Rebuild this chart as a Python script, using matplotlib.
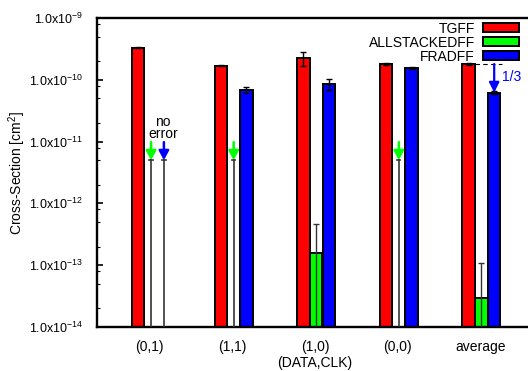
import numpy as np
import matplotlib
matplotlib.use("Agg")
import matplotlib.pyplot as plt
from matplotlib.patches import Rectangle
from matplotlib.ticker import LogLocator, NullFormatter

plt.rcParams["font.family"] = ["Liberation Sans", "DejaVu Sans"]
plt.rcParams["mathtext.fontset"] = "custom"
plt.rcParams["mathtext.rm"] = "Liberation Sans"
plt.rcParams["mathtext.it"] = "Liberation Sans"

groups = ["(0,1)", "(1,1)", "(1,0)", "(0,0)", "average"]
series = ["TGFF", "ALLSTACKEDFF", "FRADFF"]
colors = ["#ff0000", "#00ff00", "#0000ff"]

tgff = [3.3e-10, 1.7e-10, 2.25e-10, 1.8e-10, 1.8e-10]
tgff_err = [0.08e-10, 0.05e-10, 0.55e-10, 0.05e-10, 0.05e-10]
stacked = [0, 0, 1.58e-13, 0, 2.9e-14]
stacked_err = [0, 0, 3.0e-13, 0, 7.8e-14]
fradff = [0, 6.9e-11, 8.6e-11, 1.55e-10, 6.2e-11]
fradff_err = [0, 0.85e-11, 1.7e-11, 0.06e-10, 0.3e-11]
upper_limit = 5e-12

ymin, ymax = 1e-14, 1e-9
width = 0.15
offsets = [-0.14, 0.015, 0.17]

fig = plt.figure(figsize=(5.28, 3.71), dpi=100)
ax = fig.add_axes([97/528, 44/371, 436/528, 309/371])
ax.set_yscale("log")
ax.set_ylim(ymin, ymax)
ax.set_xlim(-0.64, 4.64)

x = np.arange(len(groups))
data = [tgff, stacked, fradff]
errs = [tgff_err, stacked_err, fradff_err]
for k in range(3):
    xs = x + offsets[k]
    for i in range(len(groups)):
        v = data[k][i]
        e = errs[k][i]
        if v > 0:
            ax.bar(xs[i], v - ymin, bottom=ymin, width=width, color=colors[k],
                   edgecolor="black", linewidth=1.4, zorder=2)
            lo = min(e, v * 0.99)
            ecol = "black" if k != 1 else "#333333"
            ax.errorbar(xs[i], v, yerr=[[lo], [e]], fmt="none", ecolor=ecol,
                        elinewidth=1.0, capsize=2.5, capthick=1.0, zorder=3)
        else:
            # upper limit: no error observed
            ax.plot([xs[i], xs[i]], [ymin, upper_limit], color="#333333",
                    lw=1.2, zorder=3)
            ax.plot([xs[i] - 0.02, xs[i] + 0.02], [upper_limit, upper_limit],
                    color="#333333", lw=1.2, zorder=3)
            ax.annotate("", xy=(xs[i], upper_limit), xytext=(xs[i], 9.8e-12),
                        arrowprops=dict(arrowstyle="-|>,head_width=0.3,head_length=0.55",
                                        color=colors[k], lw=1.8,
                                        shrinkA=0, shrinkB=0), zorder=4)

ax.text(0.16, 1.68e-11, "no\nerror", ha="center", va="center", fontsize=10,
        linespacing=0.85)

# factor 1/3 annotation on average
xa = x[4] + offsets[2]
ax.plot([x[4] + offsets[0] + width/2, xa + 0.09], [tgff[4], tgff[4]],
        color="black", lw=0.8, ls=(0, (4, 3)), zorder=3)
ax.annotate("", xy=(xa, fradff[4]), xytext=(xa, tgff[4]),
            arrowprops=dict(arrowstyle="-|>,head_width=0.3,head_length=0.6",
                            color="#0000ff", lw=1.6, shrinkA=0, shrinkB=0), zorder=4)
ax.text(4.27, 1.12e-10, "1/3", color="#0000ff", fontsize=10, ha="left", va="center")

# axes styling
ax.set_xticks(x)
ax.set_xticklabels(groups, fontsize=10)
ax.tick_params(axis="x", length=0, pad=9)
yt = [1e-14, 1e-13, 1e-12, 1e-11, 1e-10, 1e-9]
ax.set_yticks(yt)
ax.set_yticklabels([r"1.0x10$^{%d}$" % int(np.log10(t)) for t in yt], fontsize=9)
ax.yaxis.set_minor_locator(LogLocator(base=10, subs=[2, 5, 8]))
ax.yaxis.set_minor_formatter(NullFormatter())
ax.tick_params(axis="y", which="major", direction="in", length=4, width=1.2, pad=10)
ax.tick_params(axis="y", which="minor", direction="in", length=2, width=0.8)
for s in ax.spines.values():
    s.set_linewidth(1.7)

ax.set_ylabel(r"Cross-Section [cm$^2$]", fontsize=10)
ax.yaxis.set_label_coords(-69/436, 0.5)
ax.set_xlabel("(DATA,CLK)", fontsize=10, labelpad=2)

handles = [Rectangle((0, 0), 1, 1, facecolor=c, edgecolor="black", linewidth=1.4)
           for c in colors]
fig.legend(handles, series, loc="upper right", bbox_to_anchor=(529/528, 359/371),
           frameon=False, markerfirst=False, fontsize=10, handlelength=2.6,
           handleheight=0.6, labelspacing=0.0, handletextpad=0.6, borderpad=0.2)

fig.savefig("out.png", dpi=100)
